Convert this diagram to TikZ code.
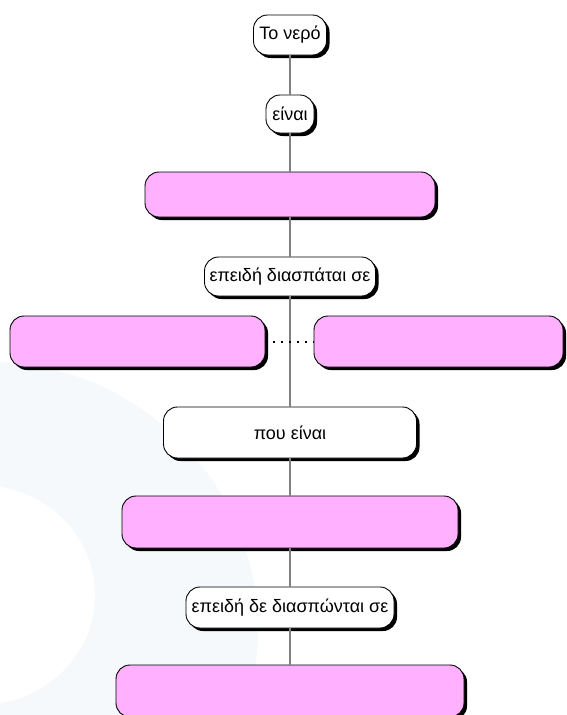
\documentclass[tikz,border=0pt]{standalone}
\usepackage{fontspec}
\setmainfont{Liberation Sans}
\usepackage{tikz}
\usetikzlibrary{positioning,shadows}

\definecolor{blankpink}{RGB}{255,176,255}
\definecolor{paleblue}{RGB}{245,249,252}
\definecolor{linkgray}{RGB}{128,128,128}

\begin{document}
\begin{tikzpicture}[x=1pt, y=1pt,
    box/.style = {draw, line width=0.9pt, rounded corners=14pt, fill=white,
      drop shadow={shadow xshift=3pt, shadow yshift=-3pt, fill=black, opacity=1},
      font=\fontsize{18}{21}\selectfont, inner sep=0pt, outer sep=0pt},
    blank/.style = {box, fill=blankpink},
    link/.style = {draw=linkgray, line width=1.5pt},
  ]
    \useasboundingbox (0,0) rectangle (566,-715);
    \fill[paleblue] (-10,-630) circle (268);
    \fill[white] (-20,-595) ellipse (115 and 110);

    \node[box, minimum width=73pt, minimum height=40pt] (water) at (290,-35) {Το νερό};
    \node[box, below=40pt of water, minimum width=48pt, minimum height=38pt] (is) {είναι};
    \node[blank, below=39pt of is, minimum width=290pt, minimum height=45pt] (what) {};
    \node[box, below=40pt of what, minimum width=171pt, minimum height=39pt] (splits) {επειδή διασπάται σε};

    \coordinate[below=45.5pt of splits] (fork);
    \node[blank, left=25pt of fork, minimum width=255pt, minimum height=51pt] (partA) {};
    \node[blank, right=24pt of fork, minimum width=249pt, minimum height=51pt] (partB) {};

    \node[box, below=65.5pt of fork, minimum width=253pt, minimum height=51pt] (which) {που είναι};
    \node[blank, below=38pt of which, minimum width=336pt, minimum height=52pt] (kind) {};
    \node[box, below=39pt of kind, minimum width=208pt, minimum height=41pt] (nosplit) {επειδή δε διασπώνται σε};
    \node[blank, below=37pt of nosplit, minimum width=348pt, minimum height=52pt] (rest) {};

    \draw[link] (water) -- (is);
    \draw[link] (is) -- (what);
    \draw[link] (what) -- (splits);
    \draw[link] (splits) -- (which);
    \draw[link] (which) -- (kind);
    \draw[link] (kind) -- (nosplit);
    \draw[link] (nosplit) -- (rest);
    \draw[line width=2pt, dash pattern=on 2pt off 6pt] (partA) -- (partB);
\end{tikzpicture}
\end{document}
